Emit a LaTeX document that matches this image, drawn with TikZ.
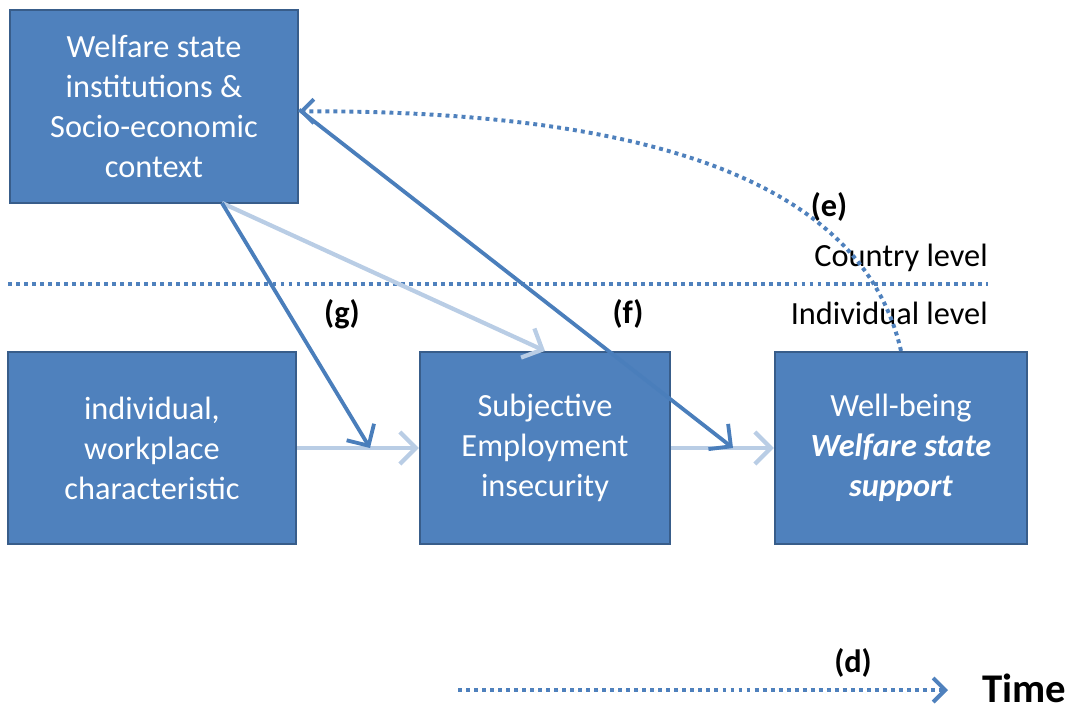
\documentclass[tikz,border=0pt]{standalone}
\usepackage{fontspec}
\setmainfont{Carlito}
\usepackage{xcolor}
\usetikzlibrary{arrows.meta}
\definecolor{boxfill}{HTML}{4F81BD}
\definecolor{boxline}{HTML}{385D8A}
\definecolor{darkarrow}{HTML}{4A7EBB}
\definecolor{lightarrow}{HTML}{B9CDE5}
\tikzset{
	factor/.style={draw=boxline,line width=1.5pt,fill=boxfill,text=white,align=center,
		minimum width=#1,minimum height=4.8cm,inner sep=0pt,
		font=\fontsize{23}{28.5}\selectfont},
	factor/.default=6.3cm,
	darkpath/.style={draw=darkarrow,line width=2.7pt,-{Straight Barb[length=4mm,width=8mm]}},
	lightpath/.style={draw=lightarrow,line width=3pt,-{Straight Barb[length=4mm,width=8mm]}},
	dotpath/.style={draw=boxfill,line width=2.8pt,dash pattern=on 2.8pt off 2.9pt},
	plainlbl/.style={font=\fontsize{23}{28.5}\selectfont,inner sep=0pt},
	boldlbl/.style={font=\fontsize{23}{28.5}\selectfont\bfseries,inner sep=0pt}
}
\begin{document}
\begin{tikzpicture}[x=0.025cm,y=-0.025cm]
		\useasboundingbox (0,0) rectangle (1079,713);
		% boxes
		\node[factor=7.2cm,minimum height=4.825cm] (welfare) at (154,106.5)
			{Welfare state\\institutions \&\\Socio-economic\\context};
		\node[factor=7.2cm] (indiv) at (152,448) {individual,\\workplace\\characteristic};
		\node[factor=6.25cm] (insecur) at (545,448) {Subjective\\Employment\\insecurity};
		\node[factor=6.3cm] (wellbeing) at (901,448)
			{Well-being\\\textbf{\textit{Welfare state}}\\\textbf{\textit{support}}};
		% levels
		\coordinate (lvlA) at (8,284);
		\coordinate (lvlB) at (988,284);
		\draw[dotpath] (lvlA)--(lvlB);
		\node[plainlbl,anchor=east] (country) at (988,258) {Country level};
		\node[plainlbl,anchor=east] (individual) at (988,313) {Individual level};
		% arrows
		\coordinate (gtip) at (370,448);
		\coordinate (ftip) at (733,448);
		\coordinate (wsouth) at (222,203);
		\draw[lightpath] (indiv.east)--(insecur.west);
		\draw[lightpath] (insecur.east)--(wellbeing.west);
		\draw[lightpath] (wsouth)--(insecur.north);
		\draw[darkpath] (wsouth)--(gtip);
		\draw[darkpath] ([yshift=-0.08cm]welfare.east)--(ftip);
		\draw[dotpath,-{Straight Barb[length=3mm,width=6mm]}] (wellbeing.north)
			.. controls (870,215) and (720,110) .. ([yshift=-0.12cm]welfare.east);
		% labels
		\node[boldlbl] (lble) at (829,207) {(e)};
		\node[boldlbl] (lblg) at (342,314) {(g)};
		\node[boldlbl] (lblf) at (628,314) {(f)};
		\node[boldlbl] (lbld) at (853,663) {(d)};
		% time
		\coordinate (tstart) at (458,690);
		\node[font=\fontsize{29}{33}\selectfont\bfseries,inner sep=0pt,anchor=west] (time) at (982,688) {Time};
		\coordinate (tend) at (948,690);
		\draw[dotpath,-{Straight Barb[length=3mm,width=6mm]}] (tstart)--(tend);
	\end{tikzpicture}
\end{document}
